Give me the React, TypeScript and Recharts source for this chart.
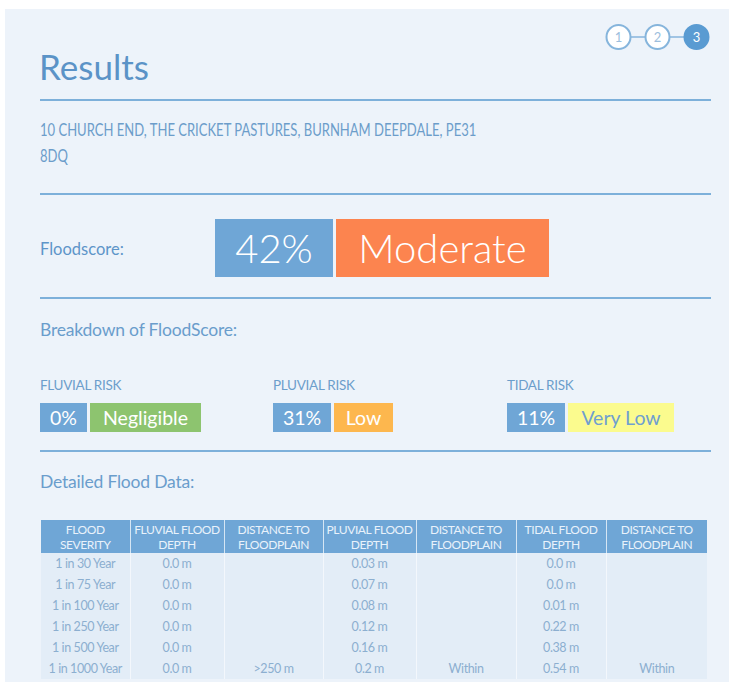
import { LineChart, Line, XAxis, YAxis } from 'recharts';

const steps = [1, 2, 3];
const activeStep = 3;

const address = '10 CHURCH END, THE CRICKET PASTURES, BURNHAM DEEPDALE, PE31 8DQ';
const floodScore = 42;
const floodBand = 'Moderate';

const riskNames = ['FLUVIAL RISK', 'PLUVIAL RISK', 'TIDAL RISK'];
const riskScores = [0, 31, 11];
const riskBands = ['Negligible', 'Low', 'Very Low'];

const tableHeaders = [
  ['FLOOD', 'SEVERITY'],
  ['FLUVIAL FLOOD', 'DEPTH'],
  ['DISTANCE TO', 'FLOODPLAIN'],
  ['PLUVIAL FLOOD', 'DEPTH'],
  ['DISTANCE TO', 'FLOODPLAIN'],
  ['TIDAL FLOOD', 'DEPTH'],
  ['DISTANCE TO', 'FLOODPLAIN'],
];
const severities = ['1 in 30 Year', '1 in 75 Year', '1 in 100 Year', '1 in 250 Year', '1 in 500 Year', '1 in 1000 Year'];
const fluvialDepth = ['0.0 m', '0.0 m', '0.0 m', '0.0 m', '0.0 m', '0.0 m'];
const fluvialDistance = ['', '', '', '', '', '>250 m'];
const pluvialDepth = ['0.03 m', '0.07 m', '0.08 m', '0.12 m', '0.16 m', '0.2 m'];
const pluvialDistance = ['', '', '', '', '', 'Within'];
const tidalDepth = ['0.0 m', '0.0 m', '0.01 m', '0.22 m', '0.38 m', '0.54 m'];
const tidalDistance = ['', '', '', '', '', 'Within'];

const FONT = 'Lato, "Open Sans", sans-serif';
const BLUE_TEXT = '#5e95c9';
const BOX_BLUE = '#6fa6d6';
const RULE = '#7db0da';

const bandColors: Record<string, { bg: string; fg: string }> = {
  Moderate: { bg: '#fc844f', fg: '#ffffff' },
  Negligible: { bg: '#8dc46f', fg: '#ffffff' },
  Low: { bg: '#fdb74e', fg: '#ffffff' },
  'Very Low': { bg: '#fbfb8e', fg: '#6f9fd0' },
};

const colWidths = [89, 94, 99, 93, 100, 90, 101];

const stepData = steps.map((s) => ({ step: s, y: 1 }));

function StepDot(props: any) {
  const { cx, cy, payload } = props;
  const active = payload.step === activeStep;
  return (
    <g key={payload.step}>
      <circle cx={cx} cy={cy} r={12} fill={active ? '#5a9bd2' : '#ffffff'} stroke={active ? '#5a9bd2' : '#86b5dc'} strokeWidth={2} />
      <text x={cx} y={cy + 4.5} textAnchor="middle" fontSize={13} fontFamily={FONT} fill={active ? '#ffffff' : '#9cbedd'}>
        {payload.step}
      </text>
    </g>
  );
}

function Rule({ top, h = 2 }: { top: number; h?: number }) {
  return <div style={{ position: 'absolute', left: 40, top, width: 671, height: h, background: RULE }} />;
}

function Pill({ left, top, width, height, bg, fg, text, size, weight = 400 }: any) {
  return (
    <div
      style={{
        position: 'absolute', left, top, width, height, background: bg, color: fg,
        fontSize: size, fontWeight: weight, lineHeight: height + 'px', textAlign: 'center', fontFamily: FONT,
      }}
    >
      {text}
    </div>
  );
}

export default function App() {
  const riskLefts = [40, 273, 507];
  const riskBlueW = [47, 58, 58];
  const riskBandW = [111, 59, 106];
  const columns = [severities, fluvialDepth, fluvialDistance, pluvialDepth, pluvialDistance, tidalDepth, tidalDistance];

  return (
    <div style={{ position: 'absolute', left: 0, top: 0, width: 731, height: 686, background: '#ffffff', fontFamily: FONT, overflow: 'hidden' }}>
      <div style={{ position: 'absolute', left: 5, top: 9, width: 724, height: 673, background: '#edf3fa' }} />

      {/* step indicator */}
      <div style={{ position: 'absolute', left: 599, top: 22 }}>
        <LineChart width={117} height={30} data={stepData} margin={{ top: 0, right: 0, bottom: 0, left: 0 }}>
          <XAxis dataKey="step" type="number" domain={[0.5, 3.5]} hide />
          <YAxis domain={[0, 2]} hide />
          <Line dataKey="y" stroke="#86b5dc" strokeWidth={1.5} dot={<StepDot />} activeDot={false} isAnimationActive={false} />
        </LineChart>
      </div>

      <div style={{ position: 'absolute', left: 39, top: 46, fontSize: 35, color: '#5b93c7', lineHeight: '40px' }}>Results</div>
      <Rule top={99} />

      <div
        style={{
          position: 'absolute', left: 40, top: 117, width: 570, fontSize: 16.5, letterSpacing: 0, color: '#6c9dca',
          lineHeight: '26px', transform: 'scaleX(0.79)', transformOrigin: 'left top',
        }}
      >
        {address}
      </div>
      <Rule top={193} />

      <div style={{ position: 'absolute', left: 40, top: 239, fontSize: 16.5, color: BLUE_TEXT, lineHeight: '20px' }}>Floodscore:</div>
      <Pill left={215} top={219} width={118} height={58} bg={BOX_BLUE} fg="#ffffff" text={floodScore + '%'} size={40} weight={300} />
      <Pill left={336} top={219} width={213} height={58} bg={bandColors[floodBand].bg} fg="#ffffff" text={floodBand} size={40} weight={300} />
      <Rule top={297} h={1.5} />

      <div style={{ position: 'absolute', left: 40, top: 320, fontSize: 17.5, color: '#6a9dcc', lineHeight: '20px', letterSpacing: -0.2 }}>Breakdown of FloodScore:</div>

      {riskNames.map((name, i) => (
        <div key={name}>
          <div style={{ position: 'absolute', left: riskLefts[i], top: 377, fontSize: 13.5, color: '#6c9ecb', lineHeight: '16px', letterSpacing: -0.3 }}>{name}</div>
          <Pill left={riskLefts[i]} top={403} width={riskBlueW[i]} height={29} bg={BOX_BLUE} fg="#ffffff" text={riskScores[i] + '%'} size={19.5} />
          <Pill
            left={riskLefts[i] + riskBlueW[i] + 3} top={403} width={riskBandW[i]} height={29}
            bg={bandColors[riskBands[i]].bg} fg={bandColors[riskBands[i]].fg} text={riskBands[i]} size={19.5}
          />
        </div>
      ))}
      <Rule top={450} />

      <div style={{ position: 'absolute', left: 40, top: 472, fontSize: 17.5, color: '#6a9dcc', lineHeight: '20px', letterSpacing: -0.2 }}>Detailed Flood Data:</div>

      <table style={{ position: 'absolute', left: 41, top: 520, borderCollapse: 'collapse', fontFamily: FONT, tableLayout: 'fixed', width: 666 }}>
        <colgroup>
          {colWidths.map((w, i) => <col key={i} style={{ width: w }} />)}
        </colgroup>
        <thead>
          <tr style={{ background: BOX_BLUE, height: 33 }}>
            {tableHeaders.map((h, i) => (
              <th key={i} style={{ color: '#e9f2fb', fontWeight: 400, fontSize: 12, lineHeight: '15px', padding: 0, borderLeft: i ? '1px solid #d6e6f4' : 'none', letterSpacing: -0.4, whiteSpace: 'nowrap' }}>
                {h[0]}<br />{h[1]}
              </th>
            ))}
          </tr>
        </thead>
        <tbody>
          {severities.map((_, r) => (
            <tr key={r} style={{ background: '#e3edf7', height: 21 }}>
              {columns.map((col, c) => (
                <td key={c} style={{ color: '#8cafd0', fontSize: 12.5, textAlign: 'center', padding: 0, lineHeight: '21px', borderLeft: c ? '1px solid #f3f7fc' : 'none', letterSpacing: -0.4 }}>
                  {col[r]}
                </td>
              ))}
            </tr>
          ))}
        </tbody>
      </table>
    </div>
  );
}
